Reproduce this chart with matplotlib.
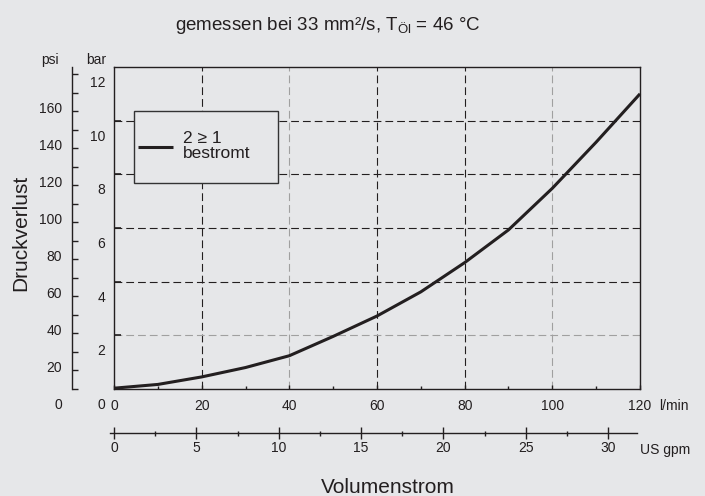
import numpy as np
import matplotlib.pyplot as plt
from matplotlib import transforms
from matplotlib.patches import Rectangle
from matplotlib.lines import Line2D

plt.rcParams['font.family'] = ['Liberation Sans', 'DejaVu Sans']
plt.rcParams['mathtext.fontset'] = 'custom'
plt.rcParams['mathtext.rm'] = 'Liberation Sans'
plt.rcParams['mathtext.it'] = 'Liberation Sans:italic'

# Kennlinie: Volumenstrom (l/min) -> Druckverlust (bar)
flow_lmin = [0, 10, 20, 30, 40, 50, 60, 70, 80, 90, 100, 110, 120]
dp_bar = [0.03, 0.17, 0.45, 0.80, 1.24, 1.96, 2.72, 3.62, 4.71, 5.93, 7.48, 9.2, 11.0]

lmin_ticks = [0, 20, 40, 60, 80, 100, 120]
lmin_minor = [10, 30, 50, 70, 90, 110]
bar_labels = [0, 2, 4, 6, 8, 10, 12]
bar_grid = [2, 4, 6, 8, 10]
bar_grid_grey = [2]
lmin_grid = [20, 40, 60, 80, 100]
lmin_grid_grey = [40, 100]
psi_ticks = list(range(0, 171, 10))
psi_labels = [0, 20, 40, 60, 80, 100, 120, 140, 160]
gpm_ticks = [0, 5, 10, 15, 20, 25, 30]
gpm_minor = [2.5, 7.5, 12.5, 17.5, 22.5, 27.5]

PSI_PER_BAR = 14.5
GPM_SCALE_MAX = 31.94   # gpm at right end of l/min axis, as drawn
GPM_LINE = (-0.24, 31.76)

W, H = 705, 496
bg = '#e6e7e9'
dark = '#231f20'
grey = '#a0a0a0'

fig = plt.figure(figsize=(W / 100, H / 100), dpi=100, facecolor=bg)

# Hauptdiagramm
ax = fig.add_axes([114 / W, 1 - 389 / H, 526 / W, 322 / H])
ax.set_facecolor(bg)
ax.set_xlim(0, 120)
ax.set_ylim(0, 12)
for s in ax.spines.values():
    s.set_linewidth(1.0)
    s.set_color(dark)

dash = (0, (7, 3.6))
for v in lmin_grid:
    c = grey if v in lmin_grid_grey else dark
    ax.axvline(v, color=c, lw=0.8, linestyle=dash, zorder=1)
for v in bar_grid:
    c = grey if v in bar_grid_grey else dark
    ax.axhline(v, color=c, lw=0.8, linestyle=dash, zorder=1)

ax.plot(flow_lmin, dp_bar, color=dark, lw=2.2, solid_capstyle='butt',
        solid_joinstyle='round', clip_on=False, zorder=5)

ax.set_xticks(lmin_ticks)
ax.set_xticks(lmin_minor, minor=True)
ax.tick_params(axis='x', which='major', direction='in', length=3, width=1,
               labelsize=10, pad=7, colors=dark)
ax.tick_params(axis='x', which='minor', direction='in', length=2.5, width=1, colors=dark)
ax.set_yticks(bar_grid)
ax.tick_params(axis='y', which='major', direction='in', length=5, width=1.2,
               labelleft=False, colors=dark)

# bar-Beschriftung (unter den Teilstrichen versetzt)
tb = transforms.offset_copy(ax.get_yaxis_transform(), fig=fig, x=-9, y=-16, units='dots')
for v in bar_labels:
    ax.text(0, v, str(v), transform=tb, ha='right', va='center', fontsize=10, color=dark)

# Legende
ax.add_patch(Rectangle((20 / 526, 206 / 322), 144 / 526, 72 / 322, transform=ax.transAxes,
                       facecolor=bg, edgecolor='#333333', lw=1.0, zorder=6))
ax.add_line(Line2D([24 / 526, 59 / 526], [242 / 322, 242 / 322], transform=ax.transAxes,
                   color=dark, lw=2.2, solid_capstyle='butt', zorder=7))
ax.text(69 / 526, 243 / 322, '2 \u2265 1\nbestromt', transform=ax.transAxes,
        ha='left', va='center', fontsize=12.5, linespacing=1.07, color=dark, zorder=7)

# psi-Skala
ax_psi = fig.add_axes([72 / W, 1 - 389 / H, 1 / W, 322 / H])
ax_psi.patch.set_visible(False)
ax_psi.set_ylim(0, 12 * PSI_PER_BAR)
for k, s in ax_psi.spines.items():
    s.set_visible(k == 'left')
ax_psi.spines['left'].set_linewidth(1.0)
ax_psi.spines['left'].set_color(dark)
ax_psi.set_xticks([])
ax_psi.set_yticks(psi_ticks)
ax_psi.tick_params(axis='y', direction='in', length=4.3, width=1, labelleft=False, colors=dark)
tp = transforms.offset_copy(ax_psi.get_yaxis_transform(), fig=fig, x=-10, y=-16, units='dots')
for v in psi_labels:
    ax_psi.text(0, v, str(v), transform=tp, ha='right', va='center', fontsize=10, color=dark)

# US gpm-Skala
ax_g = fig.add_axes([114 / W, 1 - 433 / H, 526 / W, 0.0001])
ax_g.patch.set_visible(False)
ax_g.set_xlim(0, GPM_SCALE_MAX)
for k, s in ax_g.spines.items():
    s.set_visible(k == 'bottom')
ax_g.spines['bottom'].set_bounds(*GPM_LINE)
ax_g.spines['bottom'].set_linewidth(1.0)
ax_g.spines['bottom'].set_color(dark)
ax_g.set_yticks([])
ax_g.set_xticks(gpm_ticks)
ax_g.set_xticks(gpm_minor, minor=True)
ax_g.tick_params(axis='x', which='major', direction='inout', length=8.6, width=1,
                 labelsize=10, pad=1.5, colors=dark)
ax_g.tick_params(axis='x', which='minor', direction='inout', length=3.6, width=1, colors=dark)

# Texte
fig.text(328 / W, 1 - 30 / H, r'gemessen bei 33 mm²/s, T$_{\mathrm{Öl}}$ = 46 °C',
         ha='center', va='baseline', fontsize=13.5, color=dark)
fig.text(50 / W, 1 - 60 / H, 'psi', ha='center', va='center', fontsize=10, color=dark)
fig.text(96 / W, 1 - 60 / H, 'bar', ha='center', va='center', fontsize=10, color=dark)
fig.text(21 / W, 1 - 233 / H, 'Druckverlust', rotation=90, ha='center', va='center',
         fontsize=15, color=dark)
fig.text(388 / W, 1 - 493 / H, 'Volumenstrom', ha='center', va='baseline',
         fontsize=15, color=dark)
fig.text(659 / W, 1 - 406 / H, 'l/min', ha='left', va='center', fontsize=10, color=dark)
fig.text(640 / W, 1 - 450 / H, 'US gpm', ha='left', va='center', fontsize=10, color=dark)

fig.savefig('out.png', dpi=100, facecolor=bg)
